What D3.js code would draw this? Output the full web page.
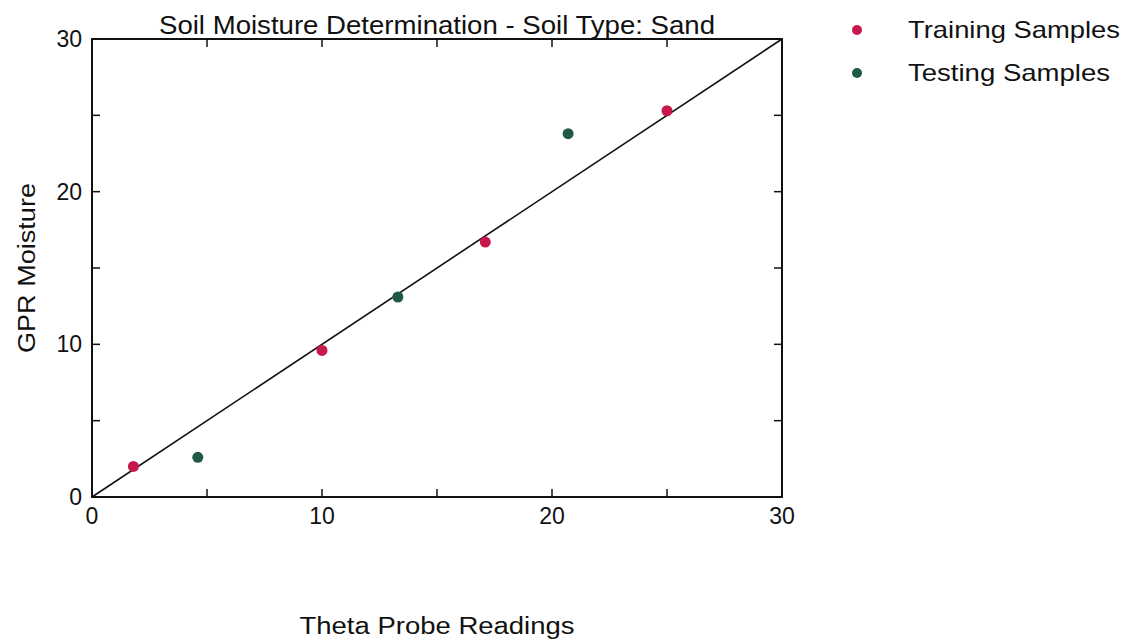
<!DOCTYPE html>
<html>
<head>
<meta charset="utf-8">
<script src="https://cdn.jsdelivr.net/npm/d3@7"></script>
<style>
  body { margin: 0; background: #fff; }
  text { font-family: "Liberation Sans", Arial, sans-serif; fill: #111; }
</style>
</head>
<body>
<svg id="chart" width="1128" height="644"></svg>
<script>
// data
var trainX = [1.8, 10.0, 17.1, 25.0];
var trainY = [2.0, 9.6, 16.7, 25.3];
var testX = [4.6, 13.3, 20.7];
var testY = [2.6, 13.1, 23.8];
var tickVals = [0, 5, 10, 15, 20, 25, 30];
var labelVals = [0, 10, 20, 30];
var seriesNames = ["Training Samples", "Testing Samples"];

var svg = d3.select("#chart");
var pLeft = 92, pRight = 782, pTop = 39, pBottom = 497;

var x = d3.scaleLinear().domain([0, 30]).range([pLeft, pRight]);
var y = d3.scaleLinear().domain([0, 30]).range([pBottom, pTop]);
var color = d3.scaleOrdinal().domain(seriesNames).range(["#c8174a", "#1f5a48"]);

// ticks on all four sides, pointing inward
var tl = 8;
var tg = svg.append("g").attr("stroke", "#111").attr("stroke-width", 1.5);
tickVals.forEach(function(v) {
  tg.append("line").attr("x1", x(v)).attr("x2", x(v)).attr("y1", pBottom).attr("y2", pBottom - tl);
  tg.append("line").attr("x1", x(v)).attr("x2", x(v)).attr("y1", pTop).attr("y2", pTop + tl);
  tg.append("line").attr("y1", y(v)).attr("y2", y(v)).attr("x1", pLeft).attr("x2", pLeft + tl);
  tg.append("line").attr("y1", y(v)).attr("y2", y(v)).attr("x1", pRight).attr("x2", pRight - tl);
});

// tick labels
svg.append("g").selectAll("text").data(labelVals).enter().append("text")
  .attr("x", function(d) { return x(d); })
  .attr("y", pBottom + 27)
  .attr("text-anchor", "middle")
  .style("font-size", "23px")
  .text(function(d) { return d; });

svg.append("g").selectAll("text").data(labelVals).enter().append("text")
  .attr("x", pLeft - 10)
  .attr("y", function(d) { return y(d) + 8; })
  .attr("text-anchor", "end")
  .style("font-size", "23px")
  .text(function(d) { return d; });

// 1:1 line
svg.append("line")
  .attr("x1", x(0)).attr("y1", y(0))
  .attr("x2", x(30)).attr("y2", y(30))
  .attr("stroke", "#111").attr("stroke-width", 1.6);

// frame
svg.append("rect")
  .attr("x", pLeft).attr("y", pTop)
  .attr("width", pRight - pLeft).attr("height", pBottom - pTop)
  .attr("fill", "none").attr("stroke", "#111").attr("stroke-width", 2);

// points
var train = trainX.map(function(v, i) { return [v, trainY[i]]; });
var test = testX.map(function(v, i) { return [v, testY[i]]; });

svg.append("g").selectAll("circle").data(train).enter().append("circle")
  .attr("cx", function(d) { return x(d[0]); })
  .attr("cy", function(d) { return y(d[1]); })
  .attr("r", 5.5)
  .attr("fill", color("Training Samples"));

svg.append("g").selectAll("circle").data(test).enter().append("circle")
  .attr("cx", function(d) { return x(d[0]); })
  .attr("cy", function(d) { return y(d[1]); })
  .attr("r", 5.5)
  .attr("fill", color("Testing Samples"));

// title
svg.append("text")
  .attr("x", (pLeft + pRight) / 2)
  .attr("y", 34)
  .attr("text-anchor", "middle")
  .attr("textLength", 556).attr("lengthAdjust", "spacingAndGlyphs")
  .style("font-size", "25px")
  .text("Soil Moisture Determination - Soil Type: Sand");

// axis labels
svg.append("text")
  .attr("x", 437).attr("y", 634)
  .attr("text-anchor", "middle")
  .attr("textLength", 275).attr("lengthAdjust", "spacingAndGlyphs")
  .style("font-size", "23px")
  .text("Theta Probe Readings");

svg.append("text")
  .attr("transform", "translate(35,268) rotate(-90)")
  .attr("text-anchor", "middle")
  .attr("textLength", 170).attr("lengthAdjust", "spacingAndGlyphs")
  .style("font-size", "23px")
  .text("GPR Moisture");

// legend
var legend = svg.append("g").selectAll("g").data(seriesNames).enter().append("g")
  .attr("transform", function(d, i) { return "translate(857," + (30 + i * 43) + ")"; });
legend.append("circle").attr("r", 5).attr("fill", function(d) { return color(d); });
legend.append("text")
  .attr("x", 51).attr("y", 8)
  .attr("textLength", function(d, i) { return i === 0 ? 212 : 202; })
  .attr("lengthAdjust", "spacingAndGlyphs")
  .style("font-size", "24px")
  .text(function(d) { return d; });
</script>
</body>
</html>
